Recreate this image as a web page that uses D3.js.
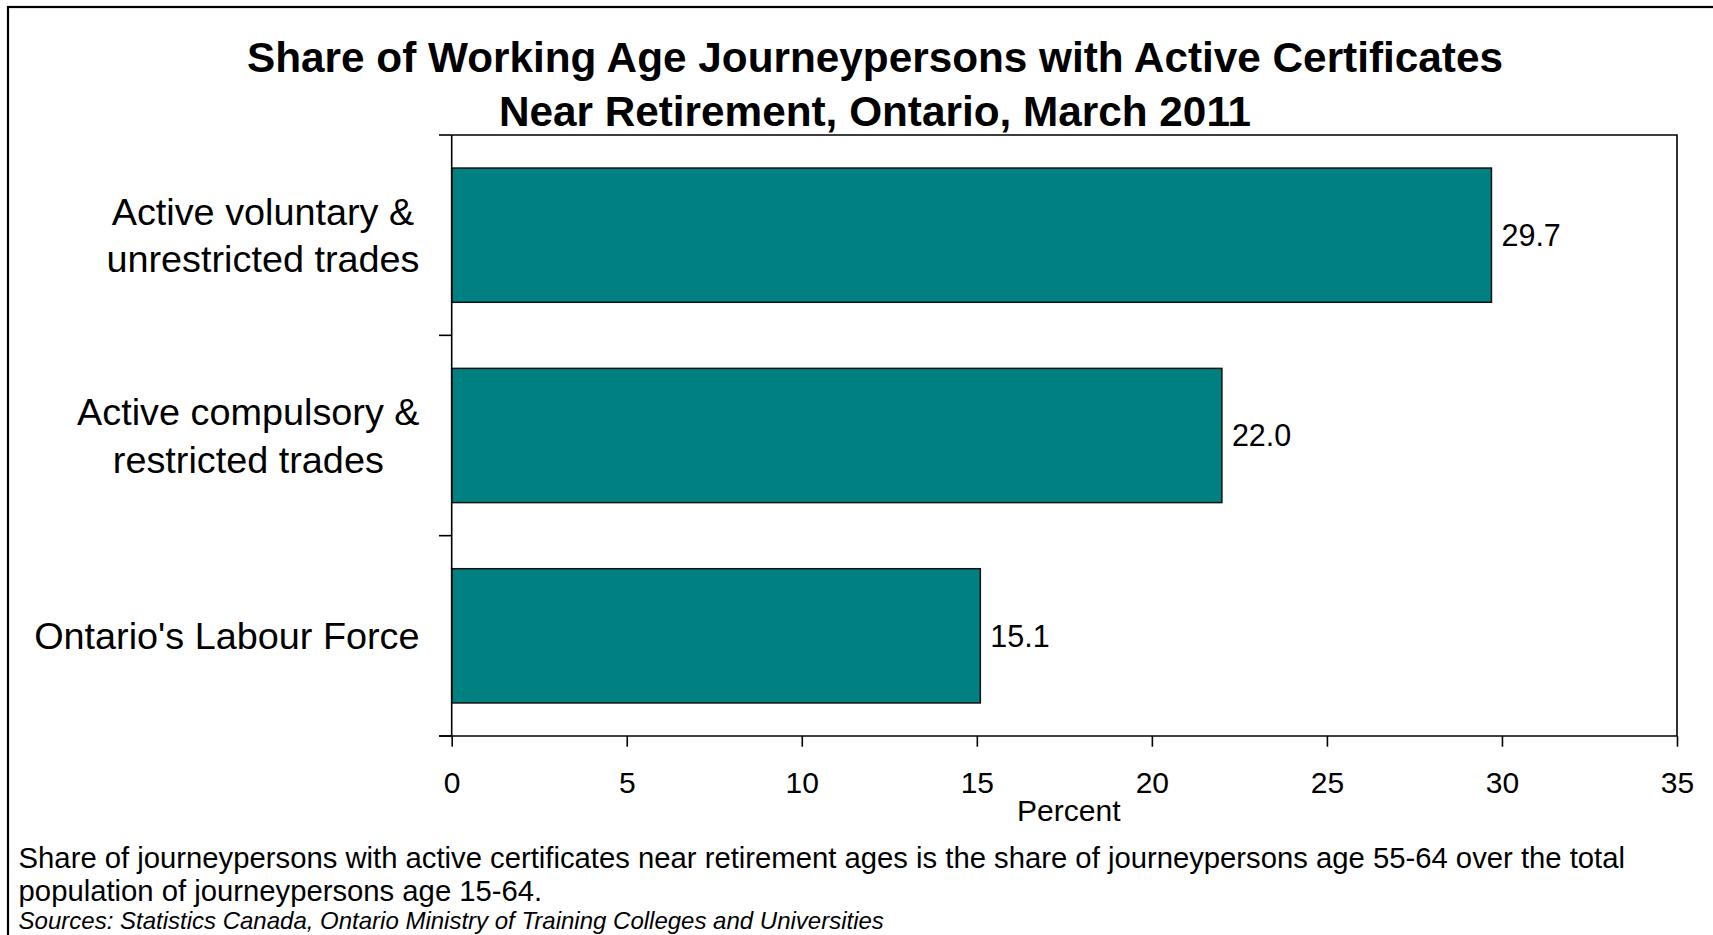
<!DOCTYPE html>
<html>
<head>
<meta charset="utf-8">
<script src="https://cdn.jsdelivr.net/npm/d3@7"></script>
<style>
  html, body { margin: 0; padding: 0; background: #fff; }
  svg { display: block; font-family: Arial, "Liberation Sans", sans-serif; }
</style>
</head>
<body>
<svg id="chart" width="1713" height="935"></svg>
<script>
// Chart data
const categories = [
  ["Active voluntary &", "unrestricted trades"],
  ["Active compulsory &", "restricted trades"],
  ["Ontario's Labour Force"]
];
const values = [29.7, 22.0, 15.1];
const xTicks = [0, 5, 10, 15, 20, 25, 30, 35];
const titleLines = [
  "Share of Working Age Journeypersons with Active Certificates",
  "Near Retirement, Ontario, March 2011"
];
const axisTitle = "Percent";
const noteLines = [
  "Share of journeypersons with active certificates near retirement ages is the share of journeypersons age 55-64 over the total",
  "population of journeypersons age 15-64."
];
const sourceLine = "Sources: Statistics Canada, Ontario Ministry of Training Colleges and Universities";

const svg = d3.select("#chart");
const W = 1713, H = 935;
const plot = { left: 451.7, right: 1677, top: 135, bottom: 736 };

// outer frame (extends past the right and bottom edges)
svg.append("rect")
  .attr("x", 8).attr("y", 7)
  .attr("width", W + 20).attr("height", H + 20)
  .attr("fill", "#fff").attr("stroke", "#000").attr("stroke-width", 2.2);

// title
svg.append("g").selectAll("text").data(titleLines).join("text")
  .attr("x", 875).attr("y", (d, i) => 71.7 + i * 54)
  .attr("text-anchor", "middle")
  .attr("font-size", 42.3).attr("font-weight", "bold")
  .text(d => d);

const x = d3.scaleLinear().domain([0, 35]).range([plot.left, plot.right]);
const y = d3.scaleBand()
  .domain(d3.range(categories.length))
  .range([plot.top, plot.bottom])
  .paddingInner(0.33).paddingOuter(0.165);

// plot frame: top and right edges
svg.append("path")
  .attr("d", `M${plot.left},${plot.top}H${plot.right}V${plot.bottom}`)
  .attr("fill", "none").attr("stroke", "#000").attr("stroke-width", 1.6);

// bars
svg.append("g").selectAll("rect").data(values).join("rect")
  .attr("x", x(0))
  .attr("y", (d, i) => y(i))
  .attr("width", d => x(d) - x(0))
  .attr("height", y.bandwidth())
  .attr("fill", "#008080")
  .attr("stroke", "#111").attr("stroke-width", 1.5);

// value labels
svg.append("g").selectAll("text").data(values).join("text")
  .attr("x", d => x(d) + 10)
  .attr("y", (d, i) => y(i) + y.bandwidth() / 2)
  .attr("dy", "0.35em")
  .attr("font-size", 30.5)
  .text(d => d.toFixed(1));

// x axis
const xAxis = svg.append("g")
  .attr("transform", `translate(0,${plot.bottom})`)
  .call(d3.axisBottom(x).tickValues(xTicks).tickSize(10.7).tickSizeOuter(0).tickPadding(0));
xAxis.select(".domain").remove();
xAxis.append("line")
  .attr("x1", plot.left - 12.7).attr("x2", plot.right)
  .attr("stroke", "#000").attr("stroke-width", 1.6);
xAxis.selectAll(".tick line").attr("stroke", "#000").attr("stroke-width", 1.6);
xAxis.selectAll(".tick text")
  .attr("y", 57.3).attr("dy", 0)
  .attr("font-size", 30).attr("font-family", "Arial, 'Liberation Sans', sans-serif")
  .attr("fill", "#000");

svg.append("text")
  .attr("x", 1068.8).attr("y", 821)
  .attr("text-anchor", "middle").attr("font-size", 30)
  .text(axisTitle);

// y axis: line with ticks on band boundaries
const yBounds = d3.range(categories.length + 1).map(i => plot.top + i * y.step());
svg.append("line")
  .attr("x1", plot.left).attr("x2", plot.left)
  .attr("y1", plot.top).attr("y2", plot.bottom)
  .attr("stroke", "#000").attr("stroke-width", 1.6);
svg.append("g").selectAll("line").data(yBounds).join("line")
  .attr("x1", plot.left - 12.7).attr("x2", plot.left)
  .attr("y1", d => d).attr("y2", d => d)
  .attr("stroke", "#000").attr("stroke-width", 1.6);

// category labels: each block right-aligned, lines centred within it
const labelRight = 419.5, lineH = 47.7, catSize = 37.8;
categories.forEach((lines, i) => {
  const g = svg.append("g");
  const cy = y(i) + y.bandwidth() / 2;
  const texts = g.selectAll("text").data(lines).join("text")
    .attr("font-size", catSize)
    .attr("text-anchor", "middle")
    .attr("y", (d, k) => cy + 0.35 * catSize + (k - (lines.length - 1) / 2) * lineH)
    .text(d => d);
  let maxW = 0;
  texts.each(function () { maxW = Math.max(maxW, this.getComputedTextLength()); });
  texts.attr("x", labelRight - maxW / 2);
});

// notes
svg.append("g").selectAll("text").data(noteLines).join("text")
  .attr("x", 18.6).attr("y", (d, i) => 868 + i * 32.5)
  .attr("font-size", 29.25)
  .text(d => d);
svg.append("text")
  .attr("x", 18.6).attr("y", 929)
  .attr("font-size", 24).attr("font-style", "italic")
  .text(sourceLine);
</script>
</body>
</html>
